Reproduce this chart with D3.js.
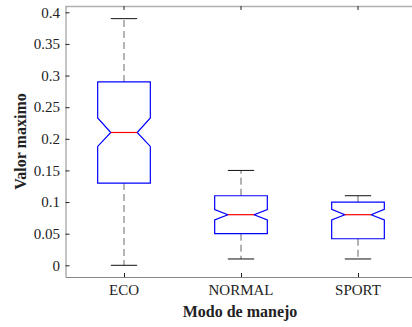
<!DOCTYPE html>
<html>
<head>
<meta charset="utf-8">
<script src="https://cdn.jsdelivr.net/npm/d3@7/dist/d3.min.js"></script>
<style>
html,body{margin:0;padding:0;background:#fff;overflow:hidden;}
svg{display:block;}
</style>
</head>
<body>
<script>
const categories = ["ECO", "NORMAL", "SPORT"];
const q1 = [0.13, 0.05, 0.042];
const medians = [0.21, 0.08, 0.08];
const q3 = [0.29, 0.11, 0.10];
const whiskerLow = [0.0, 0.01, 0.01];
const whiskerHigh = [0.39, 0.15, 0.11];
const notchLow = [0.188, 0.0717, 0.0717];
const notchHigh = [0.233, 0.088, 0.0886];
const yTicks = [0, 0.05, 0.1, 0.15, 0.2, 0.25, 0.3, 0.35, 0.4];
const yTickLabels = ["0", "0.05", "0.1", "0.15", "0.2", "0.25", "0.3", "0.35", "0.4"];
const xLabel = "Modo de manejo";
const yLabel = "Valor maximo";

(function () {
const W = 412, H = 327;
const pLeft = 65.5, pRight = 416.5, pTop = 6, pBottom = 277;

const svg = d3.select("body").append("svg").attr("width", W).attr("height", H);

const x = d3.scaleLinear().domain([0.5, 3.5]).range([pLeft, pRight]);
const y = d3.scaleLinear().domain([-0.0185, 0.41]).range([pBottom, pTop]);

const font = "Liberation Serif";

svg.append("line").attr("x1", pLeft).attr("x2", W).attr("y1", pTop + 0.5).attr("y2", pTop + 0.5)
  .attr("stroke", "#b0b0b0").attr("stroke-width", 1.5);

const yAxis = d3.axisLeft(y).tickValues(yTicks).tickFormat("").tickSizeInner(-4).tickSizeOuter(0);
const gy = svg.append("g").attr("transform", `translate(${pLeft},0)`).call(yAxis);
gy.select(".domain").attr("stroke", "#888");
gy.selectAll(".tick line").attr("stroke", "#222");

const xAxis = d3.axisBottom(x).tickValues([1, 2, 3]).tickFormat("").tickSizeInner(-4).tickSizeOuter(0);
const gx = svg.append("g").attr("transform", `translate(0,${pBottom})`).call(xAxis);
gx.select(".domain").attr("stroke", "#888");
gx.selectAll(".tick line").attr("stroke", "#222");

// tick labels
svg.append("g").selectAll("text").data(yTicks).join("text")
  .attr("x", pLeft - 5.5).attr("y", d => y(d)).attr("dy", "0.35em")
  .attr("text-anchor", "end").attr("font-family", font).attr("font-size", 15)
  .attr("fill", "#222").text((d, i) => yTickLabels[i]);
svg.append("g").selectAll("text").data([1, 2, 3]).join("text")
  .attr("x", d => x(d)).attr("y", 294.5)
  .attr("text-anchor", "middle").attr("font-family", font).attr("font-size", 15)
  .attr("fill", "#222").text((d, i) => categories[i]);

svg.append("g").selectAll("line").data([1, 2, 3]).join("line")
  .attr("x1", d => x(d)).attr("x2", d => x(d)).attr("y1", pTop).attr("y2", pTop + 4)
  .attr("stroke", "#222");

const halfW = 0.225;
const g = svg.append("g");
categories.forEach((c, i) => {
  const p = i + 1;
  const xl = x(p - halfW), xr = x(p + halfW);
  const xnl = x(p - halfW / 2), xnr = x(p + halfW / 2);
  const dashCol = i === 0 ? "#b5b5b5" : "#666";
  const dashW = i === 0 ? 2 : 1;
  g.append("line").attr("x1", x(p)).attr("x2", x(p)).attr("y1", y(q3[i])).attr("y2", y(whiskerHigh[i]))
    .attr("stroke", dashCol).attr("stroke-width", dashW).attr("stroke-dasharray", "7,4");
  g.append("line").attr("x1", x(p)).attr("x2", x(p)).attr("y1", y(q1[i])).attr("y2", y(whiskerLow[i]))
    .attr("stroke", dashCol).attr("stroke-width", dashW).attr("stroke-dasharray", "7,4");
  [whiskerHigh[i], whiskerLow[i]].forEach(v => {
    g.append("line").attr("x1", xnl).attr("x2", xnr).attr("y1", y(v)).attr("y2", y(v))
      .attr("stroke", "#111").attr("stroke-width", 1);
  });
  const pts = [
    [xl, y(q3[i])], [xr, y(q3[i])], [xr, y(notchHigh[i])], [xnr, y(medians[i])],
    [xr, y(notchLow[i])], [xr, y(q1[i])], [xl, y(q1[i])], [xl, y(notchLow[i])],
    [xnl, y(medians[i])], [xl, y(notchHigh[i])]
  ];
  g.append("path").attr("d", d3.line()(pts) + "Z")
    .attr("fill", "none").attr("stroke", "#0000ff").attr("stroke-width", 1.2);
  g.append("line").attr("x1", xnl).attr("x2", xnr).attr("y1", y(medians[i])).attr("y2", y(medians[i]))
    .attr("stroke", "#ff0000").attr("stroke-width", 1.2);
});

svg.append("text").attr("x", 240).attr("y", 317)
  .attr("text-anchor", "middle").attr("font-family", font).attr("font-weight", "bold")
  .attr("font-size", 16).attr("fill", "#222").text(xLabel);
svg.append("text").attr("transform", `translate(26,${(pTop + pBottom) / 2}) rotate(-90)`)
  .attr("text-anchor", "middle").attr("font-family", font).attr("font-weight", "bold")
  .attr("font-size", 16).attr("fill", "#222").text(yLabel);
})();
</script>
</body>
</html>
